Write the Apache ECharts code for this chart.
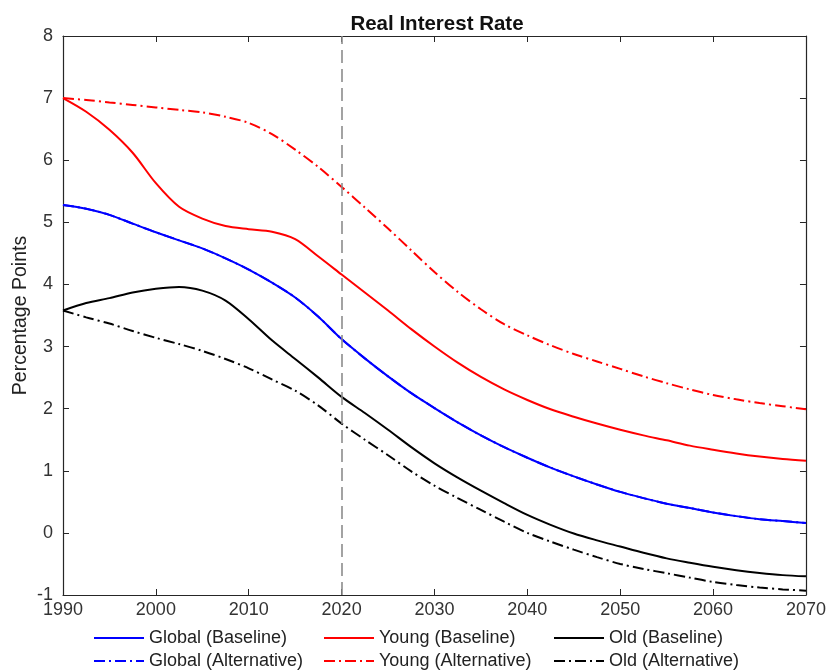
<!DOCTYPE html>
<html>
<head>
<meta charset="utf-8">
<script src="https://cdn.jsdelivr.net/npm/echarts@6/dist/echarts.min.js"></script>
<style>
html,body{margin:0;padding:0;background:#fff;}
#chart{width:829px;height:671px;}
</style>
</head>
<body>
<div id="chart"></div>
<script>
const years = [1990, 1992.5, 1995, 1997.5, 2000, 2002.5, 2005, 2007.5, 2010, 2012.5, 2015, 2017.5, 2020, 2022.5, 2025, 2027.5, 2030, 2032.5, 2035, 2037.5, 2040, 2042.5, 2045, 2047.5, 2050, 2052.5, 2055, 2057.5, 2060, 2062.5, 2065, 2067.5, 2070];
const globalBaseline = [5.28, 5.22, 5.12, 4.98, 4.84, 4.71, 4.58, 4.42, 4.24, 4.03, 3.79, 3.48, 3.12, 2.81, 2.52, 2.25, 2.01, 1.78, 1.57, 1.38, 1.21, 1.05, 0.91, 0.78, 0.66, 0.56, 0.47, 0.40, 0.33, 0.27, 0.22, 0.19, 0.16];
const globalAlternative = [5.28, 5.22, 5.12, 4.98, 4.84, 4.71, 4.58, 4.42, 4.24, 4.03, 3.79, 3.48, 3.12, 2.81, 2.52, 2.25, 2.01, 1.78, 1.57, 1.38, 1.21, 1.05, 0.91, 0.78, 0.66, 0.56, 0.47, 0.40, 0.33, 0.27, 0.22, 0.19, 0.16];
const youngBaseline = [7.00, 6.78, 6.49, 6.12, 5.63, 5.25, 5.06, 4.94, 4.89, 4.85, 4.73, 4.45, 4.16, 3.87, 3.58, 3.28, 3.00, 2.74, 2.51, 2.31, 2.14, 1.99, 1.87, 1.76, 1.66, 1.57, 1.49, 1.405, 1.34, 1.28, 1.23, 1.19, 1.16];
const youngAlternative = [7.00, 6.97, 6.93, 6.89, 6.85, 6.81, 6.77, 6.70, 6.60, 6.42, 6.17, 5.89, 5.57, 5.24, 4.90, 4.55, 4.20, 3.88, 3.60, 3.36, 3.18, 3.02, 2.88, 2.76, 2.64, 2.52, 2.41, 2.31, 2.22, 2.15, 2.09, 2.04, 1.99];
const oldBaseline = [3.58, 3.70, 3.78, 3.87, 3.93, 3.96, 3.90, 3.74, 3.44, 3.10, 2.80, 2.50, 2.19, 1.93, 1.66, 1.38, 1.12, 0.89, 0.68, 0.48, 0.29, 0.13, -0.01, -0.12, -0.22, -0.32, -0.41, -0.48, -0.545, -0.60, -0.645, -0.68, -0.70];
const oldAlternative = [3.58, 3.47, 3.37, 3.25, 3.14, 3.04, 2.93, 2.80, 2.65, 2.47, 2.29, 2.05, 1.76, 1.50, 1.25, 0.99, 0.76, 0.56, 0.37, 0.18, 0.00, -0.14, -0.27, -0.39, -0.50, -0.58, -0.65, -0.72, -0.79, -0.84, -0.88, -0.91, -0.93];
const markerYear = 2020;
const xTicks = {min: 1990, max: 2070, interval: 10};
const yTicks = {min: -1, max: 8, interval: 1};

const FONT = '"Liberation Sans", Arial, Helvetica, sans-serif';
const DASHDOT = [11, 4, 2, 4];
function pairs(vals){ return years.map((y,i)=>[y, vals[i]]); }
function line(name, vals, color, dashed, extra){
  return Object.assign({
    name: name, type: 'line', data: pairs(vals), smooth: 0.3,
    showSymbol: false, symbol: 'circle', symbolSize: 0,
    lineStyle: {color: color, width: 2, type: dashed ? DASHDOT : 'solid'},
    itemStyle: {color: color},
    emphasis: {disabled: true}, z: 3
  }, extra || {});
}
const chart = echarts.init(document.getElementById('chart'), null, {renderer: 'canvas'});
const axisColor = '#262626';
function leg(name, left, top){
  return {
    left: left, top: top, orient: 'horizontal', data: [name],
    itemWidth: 50, itemHeight: 14, itemGap: 5,
    itemStyle: {color: 'rgba(0,0,0,0)', borderWidth: 0, opacity: 0},
    textStyle: {fontFamily: FONT, fontSize: 18, color: '#222'},
    selectedMode: false, padding: 0
  };
}
chart.setOption({
  animation: false,
  backgroundColor: '#fff',
  title: {
    text: 'Real Interest Rate', left: 432, top: 9, textAlign: 'center',
    textStyle: {fontFamily: FONT, fontSize: 20.5, fontWeight: 'bold', color: '#111'}
  },
  legend: [
    leg('Global (Baseline)', 93, 629),
    leg('Global (Alternative)', 93, 652),
    leg('Young (Baseline)', 323, 629),
    leg('Young (Alternative)', 323, 652),
    leg('Old (Baseline)', 553, 629),
    leg('Old (Alternative)', 553, 652)
  ],
  grid: {left: 63, top: 36, right: 22, bottom: 76, containLabel: false},
  xAxis: [
    {type: 'value', min: xTicks.min, max: xTicks.max, interval: xTicks.interval, position: 'bottom',
     axisLine: {show: true, onZero: false, lineStyle: {color: axisColor, width: 1.2}},
     axisTick: {show: true, inside: true, length: 6, lineStyle: {color: axisColor}},
     axisLabel: {fontFamily: FONT, fontSize: 18, color: '#333', margin: 6, formatter: v => String(v)},
     splitLine: {show: false}},
    {type: 'value', min: xTicks.min, max: xTicks.max, interval: xTicks.interval, position: 'top',
     axisLine: {show: true, onZero: false, lineStyle: {color: axisColor, width: 1.2}},
     axisTick: {show: true, inside: true, length: 6, lineStyle: {color: axisColor}},
     axisLabel: {show: false}, splitLine: {show: false}}
  ],
  yAxis: [
    {type: 'value', min: yTicks.min, max: yTicks.max, interval: yTicks.interval, position: 'left',
     name: 'Percentage Points', nameLocation: 'middle', nameGap: 32, nameMoveOverlap: false,
     nameTextStyle: {fontFamily: FONT, fontSize: 19.5, color: '#222'},
     axisLine: {show: true, onZero: false, lineStyle: {color: axisColor, width: 1.2}},
     axisTick: {show: true, inside: true, length: 6, lineStyle: {color: axisColor}},
     axisLabel: {fontFamily: FONT, fontSize: 18, color: '#333', margin: 10},
     splitLine: {show: false}},
    {type: 'value', min: yTicks.min, max: yTicks.max, interval: yTicks.interval, position: 'right',
     axisLine: {show: true, onZero: false, lineStyle: {color: axisColor, width: 1.2}},
     axisTick: {show: true, inside: true, length: 6, lineStyle: {color: axisColor}},
     axisLabel: {show: false}, splitLine: {show: false}}
  ],
  series: [
    line('Global (Alternative)', globalAlternative, '#0000ff', true, {z: 2}),
    line('Global (Baseline)', globalBaseline, '#0000ff', false, {
      markLine: {silent: true, symbol: 'none', label: {show: false},
        lineStyle: {color: '#8c8c8c', type: [13, 6], width: 1.6},
        data: [{xAxis: markerYear}]}
    }),
    line('Young (Baseline)', youngBaseline, '#ff0000', false),
    line('Young (Alternative)', youngAlternative, '#ff0000', true),
    line('Old (Baseline)', oldBaseline, '#000000', false),
    line('Old (Alternative)', oldAlternative, '#000000', true)
  ]
});
</script>
</body>
</html>
